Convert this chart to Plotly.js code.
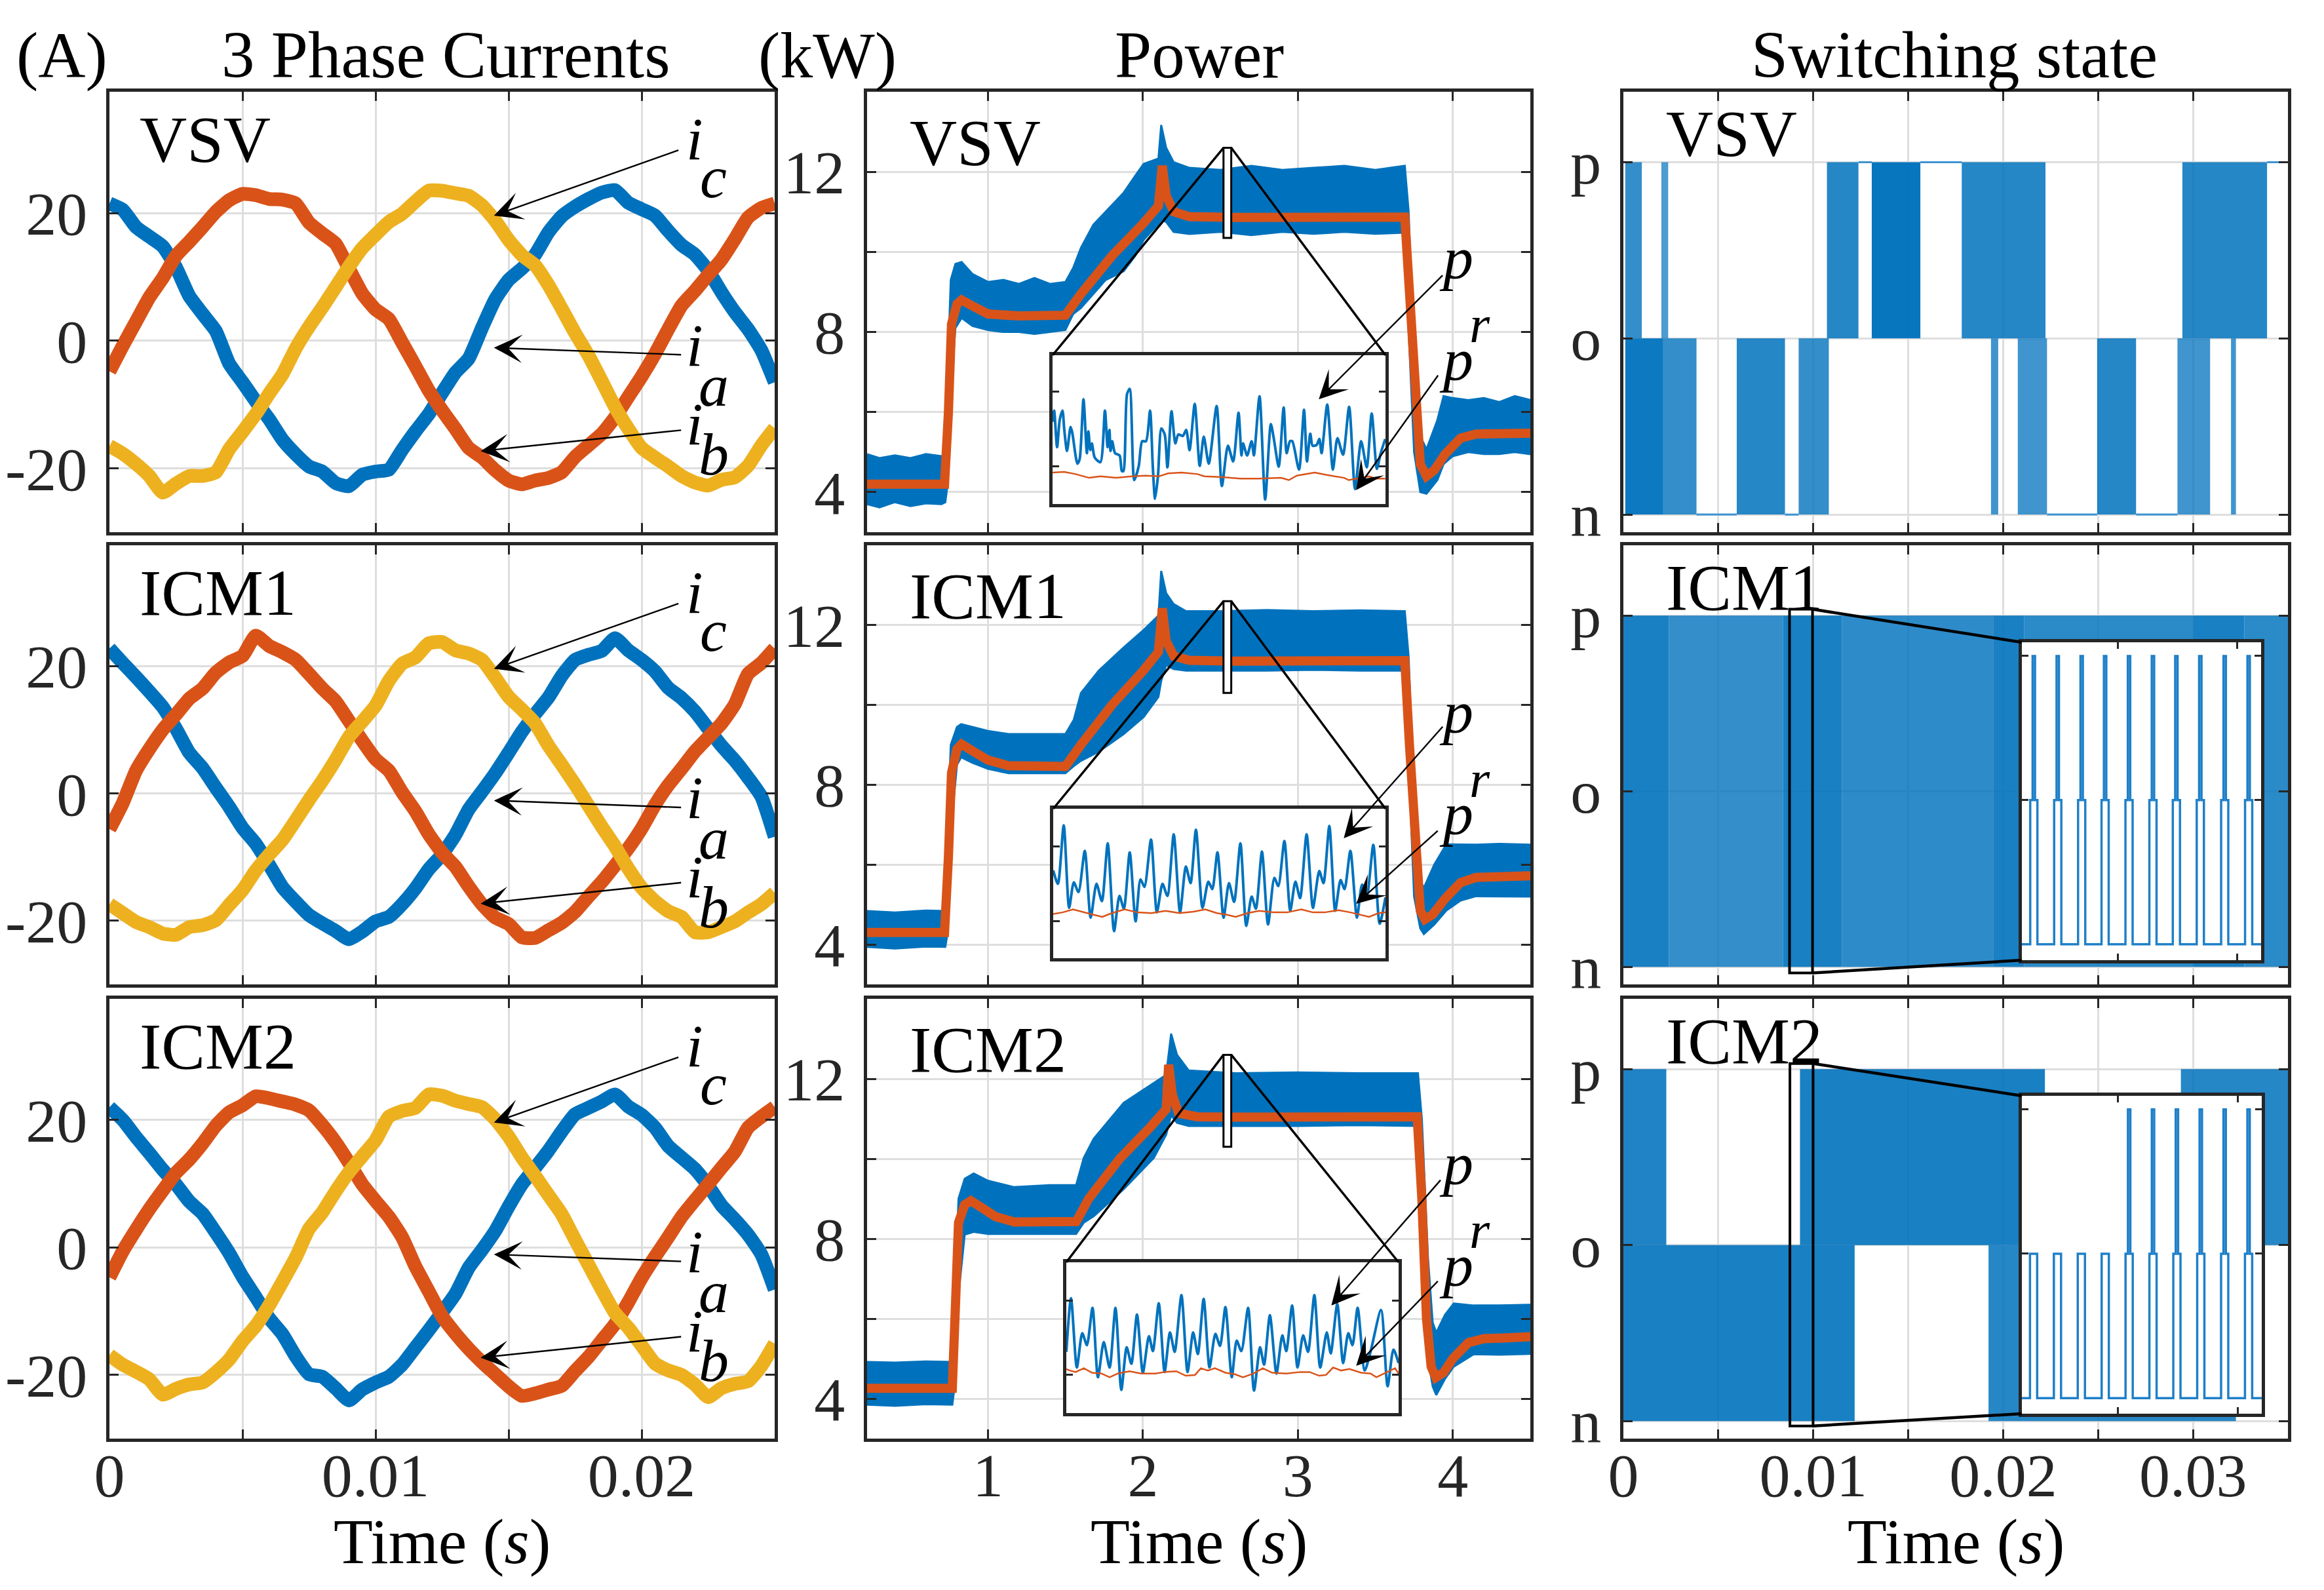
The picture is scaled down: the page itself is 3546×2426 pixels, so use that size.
<!DOCTYPE html>
<html><head><meta charset="utf-8">
<script src="https://cdn.plot.ly/plotly-3.0.1.min.js"></script>
<style>html,body{margin:0;padding:0;background:#fff}</style>
</head><body><div id="chart" style="width:3546px;height:2426px"></div>
<script>
// ===================== DATA =====================
const modes = ['VSV','ICM1','ICM2'];
const colTitles = ['3 Phase Currents','Power','Switching state'];
const unitLabels = ['(A)','(kW)'];
// tick labels
const curXTicks = [0,0.005,0.01,0.015,0.02,0.025];
const curXText  = ['0','','0.01','','0.02',''];
const curYTicks = [-20,0,20];
const curYText  = ['-20','0','20'];
const pwrXTicks = [1,2,3,4];
const pwrXText  = ['1','2','3','4'];
const pwrYTicks = [4,6,8,10,12];
const pwrYText  = ['4','','8','','12'];
const swXTicks  = [0,0.005,0.01,0.015,0.02,0.025,0.03,0.035];
const swXText   = ['0','','0.01','','0.02','','0.03',''];
const swYTicks  = [-1,0,1];
const swYText   = ['n','o','p'];

// ---- 3 phase currents (A), time (s)
const tCur = [0,0.0005,0.001,0.0015,0.002,0.0025,0.003,0.0035,0.004,0.0045,0.005,0.0055,0.006,0.0065,0.007,0.0075,0.008,0.0085,0.009,0.0095,0.01,0.0105,0.011,0.0115,0.012,0.0125,0.013,0.0135,0.014,0.0145,0.015,0.0155,0.016,0.0165,0.017,0.0175,0.018,0.0185,0.019,0.0195,0.02,0.0205,0.021,0.0215,0.022,0.0225,0.023,0.0235,0.024,0.0245,0.025];
const ia_VSV = [21.5,20.5,17.8,16.3,14.8,11.5,7.0,4.2,1.5,-3.6,-6.5,-9.5,-12.3,-15.5,-17.8,-19.7,-20.5,-22.3,-22.8,-21.0,-20.5,-20.2,-17.1,-14.2,-11.5,-8.2,-5.0,-2.8,2.0,6.5,9.5,11.3,13.5,17.0,19.5,21.0,22.2,23.2,23.6,21.6,20.6,19.6,17.2,15.0,13.5,11.0,7.6,4.5,1.8,-1.5,-6.5];
const ib_VSV = [-4.8,-0.8,3.0,6.8,9.8,13.3,15.5,17.8,20.2,22.0,23.0,22.8,22.2,22.1,21.5,18.5,16.8,15.2,11.3,7.4,4.9,3.4,-0.3,-4.0,-7.8,-10.9,-13.8,-16.8,-18.3,-20.3,-21.9,-22.5,-21.9,-21.5,-20.6,-18.2,-16.4,-14.6,-12.0,-8.8,-5.6,-2.1,1.8,5.5,7.8,10.3,12.7,15.9,19.3,20.8,21.5];
const ic_VSV = [-16.5,-17.7,-19.3,-21.2,-23.8,-22.4,-21.2,-21.2,-20.6,-17.0,-14.3,-11.5,-8.3,-5.3,-1.2,2.2,5.2,8.4,11.6,14.5,16.6,18.6,19.9,21.8,23.5,23.5,23.1,22.7,21.2,18.8,15.8,13.4,11.8,8.7,5.0,1.2,-2.3,-6.3,-10.4,-13.8,-16.8,-18.3,-19.7,-21.2,-22.2,-22.7,-21.8,-21.4,-19.6,-16.4,-13.7];
const ia_ICM1 = [22.8,20.5,18.3,16.0,13.6,10.2,6.4,4.0,0.9,-2.1,-5.4,-7.9,-11.2,-14.7,-17.0,-19.1,-20.4,-21.6,-22.9,-21.7,-20.1,-19.4,-17.4,-14.9,-11.9,-9.6,-6.5,-2.5,0.3,3.2,6.4,9.7,12.5,15.1,18.5,21.0,21.8,22.4,24.4,22.5,21.0,19.2,16.6,15.0,12.9,10.2,7.5,5.2,2.5,-0.5,-6.8];
const ib_ICM1 = [-5.6,-1.5,3.6,7.0,10.0,12.4,14.9,16.5,19.0,20.6,21.6,24.8,23.2,22.2,21.0,18.8,16.5,14.5,11.4,8.3,5.4,3.6,0.2,-2.8,-6.4,-9.3,-11.5,-14.6,-17.4,-19.5,-20.5,-22.6,-22.7,-21.5,-20.3,-18.6,-16.2,-13.9,-11.3,-8.6,-5.5,-1.8,1.3,3.9,6.6,8.8,11.0,14.0,18.8,20.5,22.8];
const ic_ICM1 = [-17.4,-18.8,-20.2,-21.0,-22.0,-22.2,-21.0,-20.7,-19.9,-17.5,-15.2,-12.1,-9.6,-7.3,-4.2,-1.0,2.0,5.3,8.9,11.3,13.8,17.7,20.4,21.4,23.6,23.8,22.5,22.0,21.0,18.2,15.2,13.2,11.0,7.5,4.5,1.4,-1.9,-5.2,-8.3,-11.8,-14.8,-16.9,-18.5,-19.4,-21.8,-21.8,-21.0,-20.1,-18.7,-17.4,-15.6];
const ia_ICM2 = [22.0,20.0,17.3,14.8,12.2,9.9,7.2,5.3,2.3,-0.9,-4.6,-7.8,-11.1,-13.6,-17.1,-19.9,-20.3,-22.1,-24.0,-22.3,-21.2,-20.3,-18.4,-15.7,-13.0,-10.2,-7.3,-3.2,-0.4,2.6,6.4,9.9,12.5,15.2,18.2,20.9,21.9,22.9,24.0,22.1,20.8,18.8,15.9,14.1,12.3,9.7,6.6,4.4,2.0,-1.1,-6.6];
const ib_ICM2 = [-4.7,-0.6,2.8,6.0,8.9,11.7,13.8,16.3,19.1,21.2,22.3,23.7,23.4,22.9,22.4,21.5,19.2,16.5,13.3,9.9,7.3,4.8,1.6,-3.0,-6.9,-10.8,-13.5,-15.9,-18.0,-19.9,-21.8,-23.3,-22.9,-22.3,-21.7,-19.4,-17.2,-14.6,-12.0,-8.6,-4.8,-1.5,1.6,4.8,7.4,9.9,12.5,15.0,18.8,20.5,22.0];
const ic_ICM2 = [-16.9,-18.4,-19.5,-20.7,-23.1,-22.2,-21.5,-21.2,-19.6,-17.6,-14.7,-12.3,-9.1,-5.4,-1.6,2.9,5.5,8.8,11.8,14.3,16.8,20.5,21.4,21.9,24.0,23.8,23.0,22.5,22.0,20.1,17.4,14.1,11.2,8.2,5.2,1.2,-2.7,-6.6,-10.3,-12.6,-15.4,-18.2,-19.3,-20.0,-21.5,-23.5,-22.1,-21.4,-21.0,-18.6,-15.1];

// ---- power (kW): band of measured p (upper / lower envelope) and reference p^r
const bandT_VSV = [0.22,0.30,0.40,0.50,0.60,0.70,0.725,0.74,0.76,0.79,0.83,0.90,1.00,1.10,1.20,1.30,1.40,1.50,1.55,1.60,1.68,1.76,1.876,1.95,2.005,2.10,2.118,2.15,2.198,2.30,2.50,2.70,2.90,3.10,3.30,3.50,3.69,3.715,3.75,3.79,3.83,3.90,3.94,4.00,4.10,4.20,4.30,4.40,4.50];
const pUp_VSV = [4.95,4.85,4.92,4.85,4.95,4.90,4.90,7.0,9.3,9.7,9.75,9.45,9.25,9.3,9.2,9.35,9.2,9.25,9.6,10.1,10.68,11.0,11.48,11.9,12.2,12.33,13.17,12.6,12.24,12.1,12.05,12.15,12.05,12.1,12.15,12.05,12.15,11.0,7.0,5.4,5.07,5.8,6.4,6.35,6.3,6.35,6.25,6.4,6.3];
const pLo_VSV = [3.70,3.62,3.75,3.65,3.72,3.70,3.75,4.2,6.5,8.1,8.35,8.15,8.05,8.0,8.0,7.95,8.0,8.05,8.45,8.6,8.95,9.3,9.52,9.9,10.3,10.7,10.8,10.75,10.5,10.45,10.5,10.42,10.5,10.45,10.5,10.45,10.48,8.0,5.0,4.0,3.96,4.3,4.7,4.9,5.0,4.95,4.95,5.0,4.95];
const prT_VSV = [0.22,0.40,0.55,0.72,0.745,0.765,0.80,0.83,0.90,1.00,1.20,1.40,1.50,1.60,1.80,2.00,2.10,2.125,2.15,2.20,2.30,2.60,3.00,3.40,3.69,3.72,3.76,3.79,3.83,3.88,3.95,4.05,4.15,4.30,4.50];
const pr_VSV = [4.20,4.18,4.20,4.20,6.0,8.2,8.70,8.80,8.65,8.45,8.40,8.40,8.42,8.95,9.90,10.70,11.15,12.15,11.40,11.00,10.88,10.86,10.87,10.86,10.87,9.0,6.0,4.7,4.40,4.55,4.95,5.35,5.45,5.45,5.47];

const bandT_ICM1 = [0.22,0.40,0.60,0.725,0.74,0.76,0.80,0.827,0.90,1.00,1.134,1.30,1.50,1.554,1.60,1.715,1.876,2.005,2.10,2.118,2.15,2.198,2.278,2.50,2.80,3.10,3.40,3.69,3.715,3.75,3.79,3.813,3.88,3.958,4.05,4.15,4.30,4.50];
const pUp_ICM1 = [4.84,4.80,4.85,4.84,7.0,9.0,9.45,9.52,9.45,9.35,9.27,9.27,9.27,9.63,10.3,10.86,11.44,11.88,12.24,13.36,12.8,12.53,12.35,12.35,12.38,12.35,12.37,12.35,11.2,7.5,5.6,5.42,6.0,6.51,6.51,6.5,6.52,6.5];
const pLo_ICM1 = [3.94,3.90,3.95,3.94,4.3,6.8,8.5,8.69,8.55,8.4,8.29,8.29,8.29,8.47,8.6,8.83,9.27,9.7,10.2,10.6,11.0,10.9,10.86,10.86,10.86,10.88,10.86,10.86,8.5,5.2,4.4,4.26,4.5,4.85,5.1,5.21,5.2,5.2];
const prT_ICM1 = [0.22,0.72,0.745,0.765,0.80,0.83,0.90,1.00,1.13,1.30,1.50,1.60,1.80,2.00,2.10,2.125,2.15,2.20,2.30,2.60,3.00,3.40,3.69,3.72,3.76,3.79,3.82,3.87,3.95,4.05,4.15,4.30,4.50];
const pr_ICM1 = [4.30,4.30,6.2,8.3,8.9,9.02,8.85,8.62,8.48,8.45,8.46,9.0,10.0,10.85,11.33,12.42,11.6,11.22,11.12,11.10,11.11,11.10,11.11,9.0,6.0,4.85,4.63,4.75,5.15,5.55,5.68,5.70,5.72];

const bandT_ICM2 = [0.22,0.40,0.60,0.77,0.785,0.81,0.85,0.908,1.00,1.166,1.40,1.569,1.618,1.682,1.876,2.07,2.15,2.182,2.22,2.295,2.60,3.00,3.40,3.775,3.80,3.84,3.87,3.893,3.95,4.006,4.135,4.30,4.50];
const pUp_ICM2 = [4.92,4.90,4.93,4.92,6.5,9.0,9.5,9.63,9.45,9.29,9.34,9.34,10.02,10.5,11.4,11.9,12.1,13.13,12.6,12.21,12.14,12.16,12.14,12.14,11.0,7.5,5.9,5.65,6.1,6.38,6.33,6.33,6.35];
const pLo_ICM2 = [3.85,3.82,3.86,3.85,4.3,6.6,8.1,8.17,8.12,8.12,8.12,8.12,8.4,8.56,9.24,10.02,10.6,11.09,10.9,10.82,10.82,10.82,10.84,10.82,8.5,5.0,4.3,4.09,4.5,4.8,5.11,5.1,5.12];
const prT_ICM2 = [0.22,0.77,0.79,0.81,0.85,0.89,0.95,1.05,1.17,1.40,1.57,1.65,1.85,2.05,2.15,2.166,2.19,2.23,2.35,2.60,3.00,3.40,3.77,3.80,3.83,3.86,3.89,3.94,4.00,4.10,4.20,4.35,4.50];
const pr_ICM2 = [4.26,4.26,6.3,8.4,8.85,8.95,8.80,8.55,8.42,8.42,8.43,9.0,10.0,10.8,11.24,12.35,11.6,11.14,11.05,11.04,11.05,11.04,11.05,9.0,6.0,4.8,4.53,4.65,5.0,5.40,5.50,5.52,5.55];

// zoom window shown in the power insets (s, kW)
const pZoomT = [2.52, 2.57];
const pZoomP_VSV = [10.35, 12.6];
const pZoomP_ICM1 = [10.3, 12.6];
const pZoomP_ICM2 = [10.3, 12.6];
// inset traces: position across the zoom window (%) and power (kW)
const zU_VSV = [0,0.47,1.36,2.17,2.98,3.53,4.34,5.42,5.90,7.46,8.14,9.29,10.31,10.78,11.32,11.80,12.68,14.37,15.73,16.54,17.08,17.42,17.90,18.78,20.14,20.81,21.29,22.37,23.19,24.54,25.90,26.92,28.07,29.29,30.10,30.78,31.66,32.68,33.69,34.51,35.73,36.88,37.76,39.12,40.14,41.15,42.71,44.20,45.42,46.92,49.29,50.85,52.68,54.24,55.86,56.75,57.22,58.44,59.80,60.47,62.17,63.86,65.56,66.44,67.93,69.42,70.31,71.32,72.00,74.03,75.53,76.41,77.42,78.10,79.32,80.14,80.81,82.51,84.20,85.56,87.25,89.08,90.85,92.68,94.37,95.86,97.42,98.44,99.93];
const zP_VSV = [11.60,11.75,11.26,11.63,11.75,11.49,11.21,11.53,11.46,11.04,11.10,11.90,11.18,11.47,11.22,11.31,11.12,11.06,11.75,11.26,11.49,11.21,11.34,11.18,11.15,10.94,10.94,11.97,12.04,10.82,11.01,11.34,11.34,11.75,11.01,10.57,10.87,11.51,11.43,10.99,11.74,11.31,11.43,11.41,11.49,11.22,11.84,11.01,11.40,11.04,11.81,10.74,11.28,11.07,11.72,11.15,11.31,11.15,11.34,11.15,11.94,10.56,11.57,11.38,11.00,11.79,11.18,11.34,11.34,10.96,11.76,11.07,11.44,11.28,11.29,11.37,11.18,11.83,10.96,11.38,11.16,11.80,10.70,11.34,10.99,11.71,10.97,11.16,11.37];
const zRU_VSV = [0,3.53,6.92,10.98,14.37,19.12,23.86,27.93,32.0,34.71,38.78,43.53,45.56,50.98,56.41,61.83,68.61,70.98,73.36,78.78,82.17,87.59,88.95,91.66,95.05,97.08,99.93];
const zR_VSV = [10.92,10.93,10.90,10.85,10.87,10.85,10.87,10.88,10.87,10.91,10.92,10.90,10.87,10.86,10.84,10.84,10.85,10.82,10.88,10.92,10.89,10.85,10.82,10.84,10.87,10.84,10.84];
const zU_ICM1 = [0,1.41,3.17,4.79,6.20,7.61,9.51,11.27,13.03,14.65,16.41,18.31,19.93,21.27,23.03,24.79,26.27,27.46,29.44,31.20,32.89,34.37,36.27,38.17,39.93,41.34,42.96,44.93,46.69,47.89,49.44,51.27,52.89,54.44,56.34,58.10,59.72,60.99,62.82,64.65,66.55,67.75,69.58,71.34,72.89,74.30,76.27,78.17,80.07,81.34,83.10,84.86,86.48,87.68,89.44,91.41,92.96,94.37,96.34,98.24,100];
const zP_ICM1 = [11.68,11.50,12.28,11.18,11.52,11.39,11.94,11.05,11.50,11.27,12.04,10.87,11.34,11.17,11.92,11.00,11.56,11.46,12.09,11.12,11.50,11.34,12.16,11.12,11.73,11.51,12.22,11.18,11.53,11.43,11.92,11.05,11.51,11.26,12.04,10.94,11.33,11.17,11.93,10.96,11.58,11.47,12.07,11.14,11.53,11.31,12.16,11.18,11.67,11.51,12.27,11.14,11.55,11.43,11.94,11.05,11.49,11.34,12.02,10.97,11.32];
const zRU_ICM1 = [0,2.82,5.99,9.15,11.97,14.79,17.61,21.48,25.35,29.58,33.80,38.03,42.25,45.77,49.30,52.11,54.93,58.45,61.97,66.20,70.42,74.65,78.17,81.69,85.92,89.44,92.25,95.07,97.89,100];
const zR_ICM1 = [11.10,11.12,11.16,11.12,11.09,11.06,11.11,11.16,11.12,11.11,11.14,11.11,11.13,11.16,11.11,11.09,11.06,11.11,11.14,11.12,11.12,11.16,11.12,11.12,11.15,11.12,11.09,11.06,11.11,11.12];
const zU_ICM2 = [0,1.41,3.17,4.79,6.20,7.89,9.51,11.27,13.03,14.79,16.55,18.17,19.58,21.27,23.03,24.86,26.06,27.82,29.58,31.20,32.61,34.65,36.48,38.17,39.58,41.34,43.10,44.86,46.27,47.89,49.79,51.27,52.68,54.72,56.48,58.31,59.51,61.27,63.24,65.00,66.20,67.96,69.58,71.27,72.75,74.65,76.41,78.38,79.58,81.55,83.31,84.86,86.13,87.68,89.79,91.55,94.72,96.69,98.45,100];
const zP_ICM2 = [11.31,12.03,11.10,11.56,11.40,11.90,10.97,11.44,11.10,11.90,10.80,11.37,11.15,11.81,11.03,11.52,11.32,11.96,11.04,11.57,11.31,12.07,11.04,11.57,11.28,12.02,11.10,11.55,11.39,11.91,10.97,11.46,11.32,11.90,10.79,11.37,11.14,11.80,11.02,11.53,11.32,11.93,11.10,11.53,11.31,12.07,11.10,11.57,11.29,11.95,11.16,11.56,11.40,11.90,11.06,11.31,11.87,10.85,11.34,11.16];
const zRU_ICM2 = [0,1.06,2.82,5.28,7.75,10.56,13.03,15.49,19.01,22.54,26.76,29.58,33.10,35.92,38.73,40.49,42.61,44.72,47.89,50.70,53.17,56.34,59.15,61.97,66.20,70.42,73.24,76.06,78.17,80.28,82.75,85.21,88.73,91.55,93.31,95.77,98.94,100];
const zR_ICM2 = [11.08,11.06,11.04,11.09,11.03,11.02,10.97,11.02,11.05,11.02,11.02,11.04,11.05,10.99,11.00,11.09,11.06,11.09,11.03,11.01,10.97,11.02,11.09,11.03,11.02,11.04,11.04,10.99,11.00,11.10,11.06,11.08,11.03,11.02,10.97,11.02,11.09,11.02];
const zInsetY_VSV = [10.5, 12.49];
const zInsetY_ICM1 = [10.51, 12.5];
const zInsetY_ICM2 = [10.49, 12.51];

// ---- switching state: bursts of switching (start s, end s, density)
const vsvUpStart = [0.0001,0.0020,0.01072,0.01308,0.01782,0.02944];
const vsvUpEnd   = [0.00097,0.00236,0.01238,0.01564,0.02223,0.0339];
const vsvUpDens  = [0.8,0.7,0.85,0.97,0.85,0.85];
const vsvLoStart = [0.0001,0.0021,0.00597,0.00923,0.01936,0.02077,0.02495,0.02918,0.032];
const vsvLoEnd   = [0.0021,0.00385,0.00851,0.01082,0.01974,0.02231,0.027,0.0309,0.03226];
const vsvLoDens  = [0.95,0.8,0.85,0.8,0.75,0.75,0.85,0.75,0.75];
const vsvIdlePStart = [0.01238,0.01564,0.0339];
const vsvIdlePEnd   = [0.01308,0.01782,0.035];
const vsvIdleNStart = [0.00385,0.00851,0.02231,0.027];
const vsvIdleNEnd   = [0.00597,0.00923,0.02495,0.02918];
const icm1Start = [0,0.0024,0.0084,0.0115,0.0195,0.0211,0.0300,0.0327];
const icm1End   = [0.0024,0.0084,0.0115,0.0195,0.0211,0.0300,0.0327,0.035];
const icm1Dens  = [0.9,0.8,0.9,0.82,0.9,0.83,0.9,0.83];
const icm2UpStart = [0,0.0093,0.02936];
const icm2UpEnd   = [0.00226,0.0222,0.035];
const icm2UpDens  = [0.88,0.9,0.85];
const icm2LoStart = [0,0.01923];
const icm2LoEnd   = [0.01218,0.03226];
const icm2LoDens  = [0.9,0.85];
// zoom windows (s, state) and pulse trains in the switching insets (% of window)
const sZoomT_ICM1 = [0.00875,0.00996], sZoomS_ICM1 = [-1.035,1.036];
const sZoomT_ICM2 = [0.00877,0.00999], sZoomS_ICM2 = [-1.028,1.032];
const pulseC_ICM1 = [5.0,15.0,25.0,34.8,44.8,54.8,64.6,74.6,84.8,94.8];
const pulseSpike_ICM1 = [1,1,1,1,1,1,1,1,1,1];
const pulseC_ICM2 = [4.88,14.84,24.80,34.76,44.72,54.67,64.63,74.59,84.55,94.51];
const pulseSpike_ICM2 = [0,0,0,0,1,1,1,1,1,1];

// ===================== LAYOUT CONSTANTS =====================
const W = 3546, H = 2426;
const SERIF = 'Liberation Serif, Times New Roman, serif';
const BLUE = '#0072BD', RED = '#D95319', YEL = '#EDB120', AX = '#262626';
const COLS = [[167,1182],[1323,2335],[2477,3491]];
const ROWS = [[140,812],[832,1502],[1524,2195]];
const XR = [[0,0.025],[0.22,4.5],[0,0.035]];
const YR = [[-30,39],[3,14],[-1.1,1.4]];
const P_INSET = [[1606,2114,542,769],[1607,2114,1234,1462],[1627,2134,1926,2156]];
const S_INSET = {1:[3085,3450,980,1465], 2:[3085,3451,1672,2157]};
const fx = p => p / W, fy = p => 1 - p / H;
function d2p(col,row,x,y){
  const [xl,xr]=COLS[col],[yt,yb]=ROWS[row];
  return [xl+(x-XR[col][0])/(XR[col][1]-XR[col][0])*(xr-xl), yb-(y-YR[col][0])/(YR[col][1]-YR[col][0])*(yb-yt)];
}

const traces = [], shapes = [], annotations = [];
const layout = {width:W,height:H,margin:{l:0,r:0,t:0,b:0},paper_bgcolor:'#fff',plot_bgcolor:'#fff',showlegend:false,
  font:{family:SERIF,color:'#000'}};

function baseAxis(){
  return {showline:true,linecolor:AX,linewidth:5,mirror:'ticks',ticks:'inside',ticklen:14,tickwidth:3,tickcolor:AX,
    showgrid:true,gridcolor:'#dedede',gridwidth:3,zeroline:false,fixedrange:true,
    tickfont:{family:SERIF,size:94,color:AX}};
}
const tickSets = [
  {xv:curXTicks,xt:curXText,yv:curYTicks,yt:curYText},
  {xv:pwrXTicks,xt:pwrXText,yv:pwrYTicks,yt:pwrYText},
  {xv:swXTicks,xt:swXText,yv:swYTicks,yt:swYText}];

for(let r=0;r<3;r++) for(let c=0;c<3;c++){
  const i=r*3+c+1, s=i===1?'':String(i);
  const xa=baseAxis(), ya=baseAxis();
  Object.assign(xa,{domain:[fx(COLS[c][0]),fx(COLS[c][1])],range:XR[c],anchor:'y'+s,tickmode:'array',
    tickvals:tickSets[c].xv,ticktext:tickSets[c].xt,showticklabels:r===2,ticklabelstandoff:-30});
  Object.assign(ya,{domain:[fy(ROWS[r][1]),fy(ROWS[r][0])],range:YR[c],anchor:'x'+s,tickmode:'array',
    tickvals:tickSets[c].yv,ticktext:tickSets[c].yt,ticklabelstandoff:10});
  layout['xaxis'+s]=xa; layout['yaxis'+s]=ya;
}
function ax(i){ return {xaxis:'x'+(i===1?'':i), yaxis:'y'+(i===1?'':i)}; }

// ---- column 1: currents
const cur = {VSV:[ia_VSV,ib_VSV,ic_VSV],ICM1:[ia_ICM1,ib_ICM1,ic_ICM1],ICM2:[ia_ICM2,ib_ICM2,ic_ICM2]};
modes.forEach((m,r)=>{
  const i=r*3+1;
  [BLUE,RED,YEL].forEach((col,k)=>traces.push(Object.assign({type:'scatter',mode:'lines',x:tCur,y:cur[m][k],
    line:{color:col,width:21,shape:'spline',smoothing:0.5},hoverinfo:'skip'},ax(i))));
});
// ---- column 2: power
const pw = {VSV:[bandT_VSV,pUp_VSV,pLo_VSV,prT_VSV,pr_VSV],ICM1:[bandT_ICM1,pUp_ICM1,pLo_ICM1,prT_ICM1,pr_ICM1],ICM2:[bandT_ICM2,pUp_ICM2,pLo_ICM2,prT_ICM2,pr_ICM2]};
modes.forEach((m,r)=>{
  const i=r*3+2, [bt,up,lo,pt,pv]=pw[m];
  traces.push(Object.assign({type:'scatter',mode:'lines',x:bt.concat(bt.slice().reverse()),y:up.concat(lo.slice().reverse()),
    fill:'toself',fillcolor:BLUE,line:{color:BLUE,width:3},hoverinfo:'skip'},ax(i)));
  traces.push(Object.assign({type:'scatter',mode:'lines',x:pt,y:pv,line:{color:RED,width:14},hoverinfo:'skip'},ax(i)));
});
// ---- column 3: switching
function burst(i,t0,t1,lo,hi,a){
  traces.push(Object.assign({type:'scatter',mode:'none',x:[t0,t1,t1,t0,t0],y:[lo,lo,hi,hi,lo],fill:'toself',
    fillcolor:'rgba(0,114,189,'+a+')',hoverinfo:'skip'},ax(i)));
}
function idle(i,t0,t1,lv){
  traces.push(Object.assign({type:'scatter',mode:'lines',x:[t0,t1],y:[lv,lv],line:{color:'#3f93d2',width:3},hoverinfo:'skip'},ax(i)));
}
vsvUpStart.forEach((t,k)=>burst(3,t,vsvUpEnd[k],0,1,vsvUpDens[k]));
vsvLoStart.forEach((t,k)=>burst(3,t,vsvLoEnd[k],-1,0,vsvLoDens[k]));
vsvIdlePStart.forEach((t,k)=>idle(3,t,vsvIdlePEnd[k],1));
vsvIdleNStart.forEach((t,k)=>idle(3,t,vsvIdleNEnd[k],-1));
icm1Start.forEach((t,k)=>burst(6,t,icm1End[k],-1,1,icm1Dens[k]));
icm2UpStart.forEach((t,k)=>burst(9,t,icm2UpEnd[k],0,1,icm2UpDens[k]));
icm2LoStart.forEach((t,k)=>burst(9,t,icm2LoEnd[k],-1,0,icm2LoDens[k]));

// ---- insets (power)
const zIns = {VSV:[zU_VSV,zP_VSV,zRU_VSV,zR_VSV,zInsetY_VSV,pZoomP_VSV],ICM1:[zU_ICM1,zP_ICM1,zRU_ICM1,zR_ICM1,zInsetY_ICM1,pZoomP_ICM1],ICM2:[zU_ICM2,zP_ICM2,zRU_ICM2,zR_ICM2,zInsetY_ICM2,pZoomP_ICM2]};
function insetAxes(n,px,xr,yr,xt,yt){
  const s=String(n);
  const xa=baseAxis(), ya=baseAxis();
  Object.assign(xa,{domain:[fx(px[0]),fx(px[1])],range:xr,anchor:'y'+s,showgrid:false,showticklabels:false,ticklen:10,
    tickmode:'array',tickvals:xt,linewidth:5});
  Object.assign(ya,{domain:[fy(px[3]),fy(px[2])],range:yr,anchor:'x'+s,showgrid:false,showticklabels:false,ticklen:10,
    tickmode:'array',tickvals:yt,linewidth:5});
  layout['xaxis'+s]=xa; layout['yaxis'+s]=ya;
}
modes.forEach((m,r)=>{
  const n=10+r, [u,v,ru,rv,yr,zp]=zIns[m], px=P_INSET[r];
  insetAxes(n,px,[0,100],yr,[],[11,12]);
  traces.push({type:'scatter',mode:'lines',x:u,y:v,line:{color:BLUE,width:4,shape:'spline',smoothing:0.7},xaxis:'x'+n,yaxis:'y'+n,hoverinfo:'skip'});
  traces.push({type:'scatter',mode:'lines',x:ru,y:rv,line:{color:RED,width:2.5},xaxis:'x'+n,yaxis:'y'+n,hoverinfo:'skip'});
  const i=r*3+2;
  shapes.push({type:'rect',xref:'x'+i,yref:'y'+i,x0:pZoomT[0],x1:pZoomT[1],y0:zp[0],y1:zp[1],line:{color:'#000',width:3},fillcolor:'#fff',layer:'above'});
  const a=d2p(1,r,pZoomT[0],zp[1]), b=d2p(1,r,pZoomT[1],zp[1]);
  shapes.push({type:'line',xref:'paper',yref:'paper',x0:fx(a[0]),y0:fy(a[1]),x1:fx(px[0]),y1:fy(px[2]),line:{color:'#000',width:3.5},layer:'above'});
  shapes.push({type:'line',xref:'paper',yref:'paper',x0:fx(b[0]),y0:fy(b[1]),x1:fx(px[1]),y1:fy(px[2]),line:{color:'#000',width:3.5},layer:'above'});
});
// ---- insets (switching)
const PULSE_OUT=1.5, PULSE_IN=0.5;
function pulseLine(cs,sp){
  const x=[0],y=[-1];
  cs.forEach((c,k)=>{x.push(c-PULSE_OUT,c-PULSE_OUT);y.push(-1,0);
    if(sp[k]){x.push(c-PULSE_IN,c-PULSE_IN,c+PULSE_IN,c+PULSE_IN);y.push(0,1,1,0);}
    x.push(c+PULSE_OUT,c+PULSE_OUT);y.push(0,-1);});
  x.push(100);y.push(-1);return {x,y};
}
[[1,13,pulseC_ICM1,pulseSpike_ICM1,[-1.11,1.095],sZoomT_ICM1,sZoomS_ICM1],[2,14,pulseC_ICM2,pulseSpike_ICM2,[-1.108,1.094],sZoomT_ICM2,sZoomS_ICM2]].forEach(([r,n,cs,sp,yr,zt,zs])=>{
  const px=S_INSET[r];
  insetAxes(n,px,[0,100],yr,[40,90],[0,1]);
  const pl=pulseLine(cs,sp);
  traces.push({type:'scatter',mode:'lines',x:pl.x,y:pl.y,line:{color:'#1f80c8',width:3.5},xaxis:'x'+n,yaxis:'y'+n,hoverinfo:'skip'});
  const i=r*3+3;
  shapes.push({type:'rect',xref:'x'+i,yref:'y'+i,x0:zt[0],x1:zt[1],y0:zs[0],y1:zs[1],line:{color:'#000',width:4},layer:'above'});
  const a=d2p(2,r,zt[1],zs[1]), b=d2p(2,r,zt[1],zs[0]);
  shapes.push({type:'line',xref:'paper',yref:'paper',x0:fx(a[0]),y0:fy(a[1]),x1:fx(px[0]),y1:fy(px[2]),line:{color:'#000',width:4.5},layer:'above'});
  shapes.push({type:'line',xref:'paper',yref:'paper',x0:fx(b[0]),y0:fy(b[1]),x1:fx(px[0]),y1:fy(px[3]),line:{color:'#000',width:4.5},layer:'above'});
});

// ===================== TEXT =====================
function txt(xp,yp,text,size,extra){
  annotations.push(Object.assign({xref:'paper',yref:'paper',x:fx(xp),y:fy(yp),text:text,showarrow:false,
    xanchor:'center',yanchor:'middle',font:{family:SERIF,size:size,color:'#000'}},extra||{}));
}
txt(94,84,unitLabels[0],100);
txt(680,84,colTitles[0],101);
txt(1262,84,unitLabels[1],100);
txt(1830,84,colTitles[1],101);
txt(2982,84,colTitles[2],101);
[674.5,1829,2984].forEach(x=>txt(x,2352,'Time (<i>s</i>)',98));
const labOff = [[44,72],[63,77],[63,64]];
modes.forEach((m,r)=>{ for(let c=0;c<3;c++) txt(COLS[c][0]+labOff[c][0],ROWS[r][0]+labOff[c][1],m,100,{xanchor:'left'}); });

function dtxt(i,x,y,text,size){
  const s=i===1?'':String(i);
  annotations.push({xref:'x'+s,yref:'y'+s,x:x,y:y,text:text,showarrow:false,xanchor:'center',yanchor:'middle',
    font:{family:SERIF,size:size,color:'#000'}});
}
function arrow(i,x0,y0,x1,y1){
  const s=i===1?'':String(i);
  annotations.push({xref:'x'+s,yref:'y'+s,axref:'x'+s,ayref:'y'+s,x:x1,y:y1,ax:x0,ay:y0,text:'',showarrow:true,
    arrowhead:3,arrowsize:3,arrowwidth:2.4,arrowcolor:'#000',standoff:0,startstandoff:0});
}
modes.forEach((m,r)=>{
  const i=r*3+1;
  dtxt(i,0.0220,31.6,'<i>i</i>',92); dtxt(i,0.0227,25.6,'<i>c</i>',92);
  dtxt(i,0.0220,-0.7,'<i>i</i>',92); dtxt(i,0.0227,-7.0,'<i>a</i>',92);
  dtxt(i,0.0220,-13.1,'<i>i</i>',92); dtxt(i,0.0227,-17.8,'<i>b</i>',92);
  arrow(i,0.02142,29.9,0.01445,19.6);
  arrow(i,0.02152,-2.2,0.01445,-1.1);
  arrow(i,0.02152,-14.0,0.01395,-17.3);
  const j=r*3+2;
  const pLab=[[9.84,7.30,8.19],[9.81,7.27,8.14],[9.87,7.33,8.22]][r];
  dtxt(j,4.023,pLab[0],'<i>p</i>',92);
  dtxt(j,4.023,pLab[1],'<i>p</i>',92);
  dtxt(j,4.176,pLab[2],'<i>r</i>',80);
  const pA=[[3.94,9.44,3.135,6.32,3.909,6.94,3.376,4.05],[3.94,9.48,3.296,6.66,3.909,6.87,3.376,5.02],[3.926,9.49,3.216,6.33,3.909,6.96,3.376,4.82]][r];
  arrow(j,pA[0],pA[1],pA[2],pA[3]);
  arrow(j,pA[4],pA[5],pA[6],pA[7]);
});

layout.shapes=shapes; layout.annotations=annotations;
Plotly.newPlot('chart',traces,layout,{staticPlot:true,displayModeBar:false});
</script></body></html>
